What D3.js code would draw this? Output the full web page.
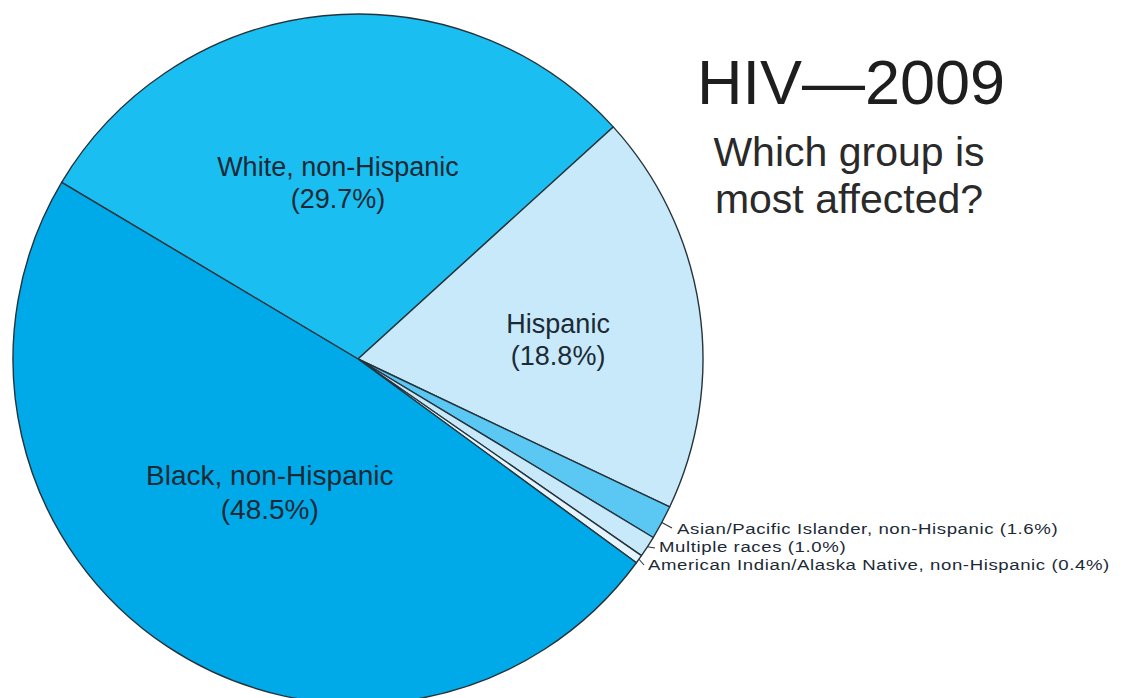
<!DOCTYPE html>
<html>
<head>
<meta charset="utf-8">
<script src="https://cdn.jsdelivr.net/npm/d3@7"></script>
<style>
  html, body { margin: 0; padding: 0; background: #fff; }
  svg { display: block; }
  text { font-family: "Liberation Sans", Arial, Helvetica, sans-serif; }
</style>
</head>
<body>
<svg id="chart" width="1131" height="698"></svg>
<script>
// ---- data ----
const categories = [
  "White, non-Hispanic",
  "Hispanic",
  "Asian/Pacific Islander, non-Hispanic",
  "Multiple races",
  "American Indian/Alaska Native, non-Hispanic",
  "Black, non-Hispanic"
];
const values = [29.7, 18.8, 1.6, 1.0, 0.4, 48.5];
const valueLabels = ["(29.7%)", "(18.8%)", "(1.6%)", "(1.0%)", "(0.4%)", "(48.5%)"];
const colors = ["#1bbef0", "#c8e9fa", "#5ac8f3", "#c8e9fa", "#e6f5fd", "#00aae9"];
const title = "HIV\u20142009";
const subtitle = ["Which group is", "most affected?"];

// ---- layout ----
const cx = 358, cy = 359, R = 345;
const startAngle = -59.2 * Math.PI / 180;

const svg = d3.select("#chart");
const g = svg.append("g").attr("transform", `translate(${cx},${cy})`);

const data = categories.map((c, i) => ({ name: c, value: values[i], label: valueLabels[i], color: colors[i], i }));

const pie = d3.pie().value(d => d.value).sort(null)
  .startAngle(startAngle).endAngle(startAngle + 2 * Math.PI);
const arcs = pie(data);
const arc = d3.arc().innerRadius(0).outerRadius(R);

g.selectAll("path.slice").data(arcs).enter().append("path")
  .attr("class", "slice")
  .attr("d", arc)
  .attr("fill", d => d.data.color)
  .attr("stroke", "#25343c")
  .attr("stroke-width", 1.4)
  .attr("stroke-linejoin", "round");

const polar = (a, r) => [r * Math.sin(a), -r * Math.cos(a)];
const mid = d => (d.startAngle + d.endAngle) / 2;

// big inside labels: index, angle offset (deg), radius fraction
const inside = [
  { i: 0, da: -0.5, rf: 0.535, fs: 27 },
  { i: 1, da: 1.0, rf: 0.585, fs: 27 },
  { i: 5, da: 1.4, rf: 0.447, fs: 28 }
];
const textColor = "#1c2a36";
inside.forEach(p => {
  const d = arcs[p.i];
  const [x, y] = polar(mid(d) + p.da * Math.PI / 180, p.rf * R);
  const t = g.append("text")
    .attr("x", x).attr("y", y)
    .attr("text-anchor", "middle")
    .attr("font-size", p.fs)
    .attr("fill", textColor);
  t.append("tspan").attr("x", x).attr("dy", "0em").text(d.data.name);
  t.append("tspan").attr("x", x).attr("dy", "1.2em").text(d.data.label);
});

// small outside labels with short leaders
const outside = [
  { i: 2, tx: 677, ty: 534, lx: 672, ly: 528 },
  { i: 3, tx: 659, ty: 552, lx: 655, ly: 548 },
  { i: 4, tx: 648, ty: 570, lx: 644, ly: 565 }
];
outside.forEach(p => {
  const d = arcs[p.i];
  const [ex, ey] = polar(mid(d), R);
  svg.append("line")
    .attr("x1", cx + ex).attr("y1", cy + ey)
    .attr("x2", p.lx).attr("y2", p.ly)
    .attr("stroke", "#25343c").attr("stroke-width", 1.1);
  svg.append("text")
    .attr("transform", `translate(${p.tx},${p.ty}) scale(1.2,1)`)
    .attr("font-size", 15.5)
    .attr("letter-spacing", 0.5)
    .attr("fill", textColor)
    .text(`${d.data.name} ${d.data.label}`);
});

// title block
svg.append("text")
  .attr("x", 851).attr("y", 104)
  .attr("text-anchor", "middle")
  .attr("font-size", 63)
  .attr("fill", "#1e1e1e")
  .text(title);
subtitle.forEach((s, k) => {
  svg.append("text")
    .attr("x", 849).attr("y", 166 + k * 47)
    .attr("text-anchor", "middle")
    .attr("font-size", 41)
    .attr("fill", "#2a2a2a")
    .text(s);
});
</script>
</body>
</html>
